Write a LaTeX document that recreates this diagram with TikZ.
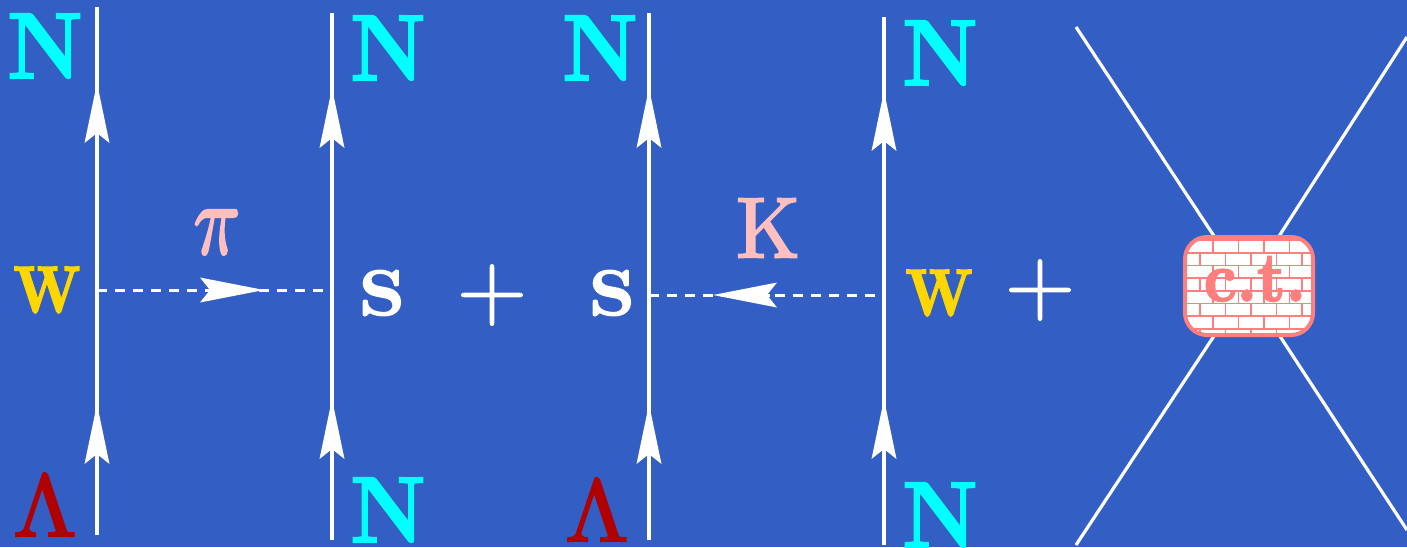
\documentclass[tikz,border=0pt]{standalone}
\usepackage{amsmath}
\usetikzlibrary{arrows.meta}
\definecolor{bgblue}{HTML}{335EC4}
\definecolor{nuc}{HTML}{00FFFF}
\definecolor{lam}{HTML}{B00000}
\definecolor{weak}{HTML}{FFD700}
\definecolor{meson}{HTML}{FFBFBF}
\definecolor{ctred}{HTML}{FF7F7F}
\newcommand{\heavy}[2]{\special{pdf: code 0 j 2 Tr #1 w}#2\special{pdf: code 0 Tr}}
\newcommand{\bigbf}[4]{\scalebox{#1}[#2]{\fontsize{10}{12}\selectfont\bfseries\heavy{#3}{#4}}}
\newcommand{\bigrm}[5]{\scalebox{#2}[#3]{\fontsize{#1}{12}\selectfont\heavy{#4}{#5}}}
\tikzset{
  x=0.5pt,y=-0.5pt,
  fermion/.style={draw=white,line width=1.7pt},
  flowtip/.style={fermion,-{Stealth[length=30pt,width=12.5pt,inset=5pt,line width=0pt,fill=white]}},
  meson line/.style={draw=white,line width=1.5pt,dash pattern=on 5pt off 4pt},
  mesontip/.style={draw=white,line width=1.5pt,-{Stealth[length=32pt,width=12.5pt,inset=5pt,line width=0pt,fill=white]}},
  leg/.style={draw=white,line width=1.6pt},
  Nlab/.style={text=nuc,inner sep=0pt},
  Llab/.style={text=lam,inner sep=0pt},
  Wlab/.style={text=weak,inner sep=0pt},
  Slab/.style={text=white,inner sep=0pt},
  plus/.style={text=white,inner sep=0pt},
  mlab/.style={text=meson,inner sep=0pt},
  ctbox/.style={draw=ctred,line width=2pt,rounded corners=11pt},
  brick/.style={draw=ctred,line width=0.9pt},
}
\begin{document}
\begin{tikzpicture}
\fill[bgblue] (0,0) rectangle (1407,547);
\useasboundingbox (0,0) rectangle (1407,547);
% fermion lines
\foreach \n/\x/\t/\b/\ta/\tb in {a/97/7/535/83/404,b/332/13/540/88/399,c/649/13/540/88/404,d/884/17/545/91/399}{
  \coordinate (\n top) at (\x,\t);
  \coordinate (\n bot) at (\x,\b);
  \coordinate (\n tipa) at (\x,\ta);
  \coordinate (\n tipb) at (\x,\tb);
  \draw[fermion] (\n bot) -- (\n top);
  \draw[flowtip] (\n bot) -- (\n tipb);
  \draw[flowtip] (\n bot) -- (\n tipa);
}
% meson lines
\coordinate (pl) at (97,290);
\coordinate (pr) at (332,290);
\coordinate (pbase) at (205,290);
\coordinate (ptip) at (264,290);
\coordinate (kl) at (649,295);
\coordinate (kr) at (884,295);
\coordinate (kbase) at (770,295);
\coordinate (ktip) at (713,295);
\draw[meson line] (pl) -- (pr);
\draw[meson line] (kl) -- (kr);
\draw[mesontip] (pbase) -- (ptip);
\draw[mesontip] (kbase) -- (ktip);
% contact term
\coordinate (tl) at (1076,27);
\coordinate (tr) at (1407,37);
\coordinate (bl) at (1076,545);
\coordinate (br) at (1407,530);
\coordinate (ctc) at (1247,286);
\draw[leg] (tl) -- (ctc);
\draw[leg] (tr) -- (ctc);
\draw[leg] (bl) -- (ctc);
\draw[leg] (br) -- (ctc);
\fill[white,rounded corners=11pt] (1185,237) rectangle (1313,335);
\begin{scope}
  \clip[rounded corners=11pt] (1185,237) rectangle (1313,335);
  \foreach \y in {240,252.7,265.4,278.1,290.8,303.5,316.2,328.9}
    \draw[brick] (1185,\y) -- (1313,\y);
  \foreach \y in {240,265.4,290.8,316.2}
    \foreach \x in {1213,1238.5,1264,1289.5}
      \draw[brick] (\x,\y) -- (\x,\y+12.7);
  \foreach \y in {252.7,278.1,303.5,328.9}
    \foreach \x in {1200,1225.5,1251,1276.5,1302}
      \draw[brick] (\x,\y) -- (\x,\y+12.7);
\end{scope}
\draw[ctbox] (1185,237) rectangle (1313,335);
\node[text=ctred,inner sep=0pt] (ct) at (1255,279) {\bigbf{3.2}{3.5}{0.25}{c.t.}};
% labels
\node[Nlab] (n1) at (45,46) {\bigbf{4.2}{4.7}{0.2}{N}};
\node[Nlab] (n2) at (388,48) {\bigbf{4.2}{4.7}{0.2}{N}};
\node[Nlab] (n3) at (600,48) {\bigbf{4.2}{4.7}{0.2}{N}};
\node[Nlab] (n4) at (940,53) {\bigbf{4.2}{4.7}{0.2}{N}};
\node[Nlab] (n5) at (388,510) {\bigbf{4.2}{4.7}{0.2}{N}};
\node[Nlab] (n6) at (940,515) {\bigbf{4.2}{4.7}{0.2}{N}};
\node[Llab] (l1) at (45,506) {\bigrm{10}{4.55}{4.4}{0.25}{$\Lambda$}};
\node[Llab] (l2) at (597,511) {\bigrm{10}{4.55}{4.4}{0.25}{$\Lambda$}};
\node[Wlab] (w1) at (47,290) {\bigbf{2.8}{3.3}{0.3}{W}};
\node[Wlab] (w2) at (939,293) {\bigbf{2.8}{3.3}{0.3}{W}};
\node[Slab] (s1) at (382,293) {\bigbf{3.6}{3.2}{0.25}{S}};
\node[Slab] (s2) at (612,293) {\bigbf{3.6}{3.2}{0.25}{S}};
\node[plus] (p1) at (492,295) {\bigrm{10}{4.6}{4.6}{0.1}{$+$}};
\node[plus] (p2) at (1040,290) {\bigrm{10}{4.6}{4.6}{0.1}{$+$}};
\node[mlab] (pi) at (217,232) {\bigrm{7}{5}{7.3}{0.15}{$\pi$}};
\node[mlab] (k) at (768,228) {\bigrm{10}{4.1}{4.3}{0.25}{K}};
\end{tikzpicture}
\end{document}
